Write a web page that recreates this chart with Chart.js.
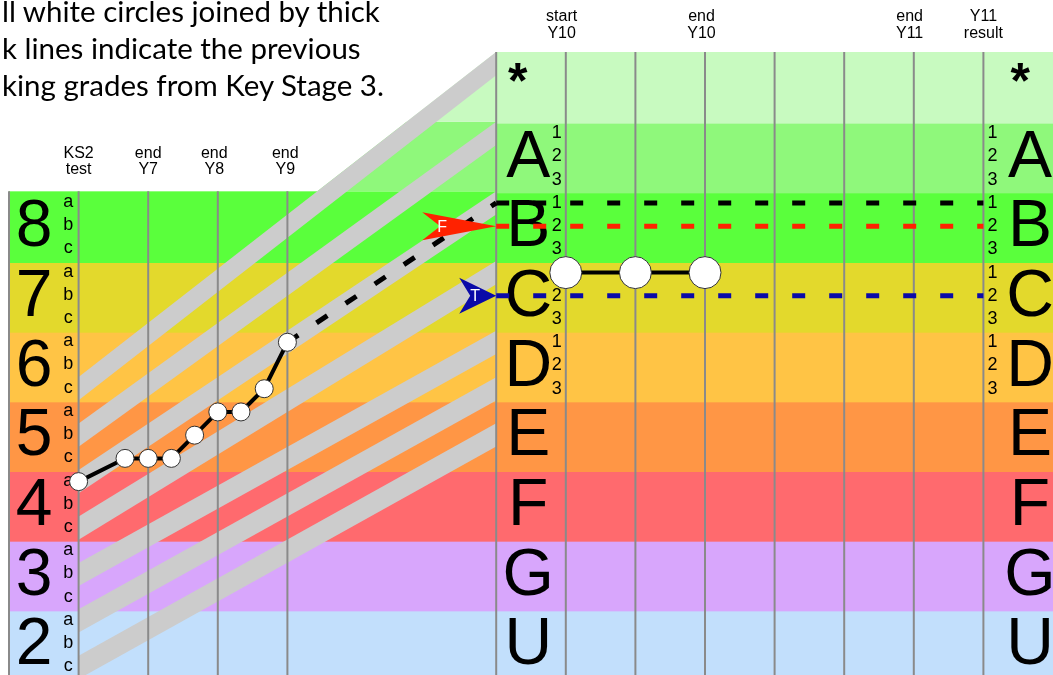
<!DOCTYPE html>
<html lang="en">
<head>
<meta charset="UTF-8" />
<title>Flight path</title>
<script src="https://cdn.jsdelivr.net/npm/chart.js"></script>
<style>
  html, body { margin: 0; padding: 0; overflow: hidden; background: #fff; }
  #wrap { position: relative; width: 1053px; height: 675px; overflow: hidden; }
  #chart { position: absolute; left: 0; top: 0; }
  #intro {
    position: absolute; left: 2px; top: -8px;
    font-family: Lato, "Open Sans", sans-serif; font-size: 29.5px; line-height: 37px;
    color: #000; white-space: pre;
  }
</style>
<script>
  // rows from the bottom, shared by both panels (level 2 = U ... level 8 = B)
  const ks3Levels = ["2", "3", "4", "5", "6", "7", "8"];
  const gcseRows = ["U", "G", "F", "E", "D", "C", "B", "A", "*"];
  const gcseSplitRows = ["D", "C", "B", "A"];
  const rowColours = ["#c2dffc", "#d8a6fc", "#ff6a6e", "#ff9645", "#ffc445",
                      "#e3d92c", "#5aff3c", "#8ff87b", "#c8fac0"];

  const ks3Headers = [["KS2", "test"], ["end", "Y7"], ["end", "Y8"], ["end", "Y9"]];
  const ks3HeaderX = [1, 2, 2.95, 3.97];
  const ks4Headers = [["start", "Y10"], ["end", "Y10"], ["end", "Y11"], ["Y11", "result"]];
  const ks4HeaderX = [7.94, 9.95, 12.94, 14];

  // tracking grades (x = column, one unit per year)
  const ks3TermX = [1, 1.667, 2, 2.333, 2.667, 3, 3.333, 3.667, 4];
  const ks3Grades = ["4a", "5c", "5c", "5c", "5b", "5a", "5a", "6c", "6a"];
  const ks4TermX = [8, 9, 10];
  const ks4Grades = ["C1", "C1", "C1"];

  const flightX = [4, 7];
  const flightGrades = ["6a", "B1"];
  const lineX = [7, 14];
  const predictedGrade = "B1";
  const fftGrade = "B2";
  const targetGrade = "C2";

  // gray flight path bands: KS2 sub-level they start on, grade value they reach
  const stripeStarts = ["6c", "5b", "4a", "4c", "3b", "2a", "2c"];
  const stripeEnds = [11, 10, 9, 8, 7, 6.33, 5.67];

  const ks3Sub = { a: 5 / 6, b: 0.5, c: 1 / 6 };
  const ks4Sub = { "1": 5 / 6, "2": 0.5, "3": 1 / 6 };

  function gradeValue(g) {
    if (/^\d/.test(g)) return +g[0] + ks3Sub[g[1]];
    return gcseRows.indexOf(g[0]) + 2 + ks4Sub[g[1]];
  }
  function stripeTop(g) {
    return +g[0] + ks3Sub[g[1]] + 1 / 6;
  }

  const FONT = '"Liberation Sans", Arial, sans-serif';

  const backdrop = {
    id: "backdrop",
    beforeDatasetsDraw(chart) {
      const { ctx, scales: { x, y } } = chart;
      const X = (v) => x.getPixelForValue(v);
      const Y = (v) => y.getPixelForValue(v);
      const bottom = chart.height;
      ctx.save();

      // right panel rows
      gcseRows.forEach((r, i) => {
        ctx.fillStyle = rowColours[i];
        ctx.fillRect(X(7), Y(i + 3), X(15) - X(7), Y(i + 2) - Y(i + 3) + 2);
      });
      // left panel levels
      ks3Levels.forEach((l, i) => {
        ctx.fillStyle = rowColours[i];
        ctx.fillRect(X(0), Y(i + 3), X(7) - X(0), Y(i + 2) - Y(i + 3) + 2);
      });
      // A and * rows continue left under the top flight path
      ctx.save();
      ctx.beginPath();
      ctx.moveTo(X(1), Y(stripeTop(stripeStarts[0])));
      ctx.lineTo(X(7), Y(stripeEnds[0]));
      ctx.lineTo(X(7), Y(2));
      ctx.lineTo(X(1), Y(2));
      ctx.closePath();
      ctx.clip();
      for (let i = 7; i < 9; i++) {
        ctx.fillStyle = rowColours[i];
        ctx.fillRect(X(0), Y(i + 3), X(7) - X(0), Y(i + 2) - Y(i + 3));
      }
      ctx.restore();

      // gray stripes
      ctx.fillStyle = "#cccccc";
      stripeStarts.forEach((s, i) => {
        const t0 = stripeTop(s), t1 = stripeEnds[i];
        ctx.beginPath();
        ctx.moveTo(X(1), Y(t0));
        ctx.lineTo(X(7), Y(t1));
        ctx.lineTo(X(7), Y(t1 - 1 / 3));
        ctx.lineTo(X(1), Y(t0 - 1 / 3));
        ctx.closePath();
        ctx.fill();
      });

      // column lines
      ctx.strokeStyle = "#8a8a8a";
      ctx.lineWidth = 2;
      [0, 1, 2, 3, 4].forEach((c) => {
        ctx.beginPath(); ctx.moveTo(X(c), Y(9)); ctx.lineTo(X(c), bottom); ctx.stroke();
      });
      [7, 8, 9, 10, 11, 12, 13, 14].forEach((c) => {
        ctx.beginPath(); ctx.moveTo(X(c), Y(11)); ctx.lineTo(X(c), bottom); ctx.stroke();
      });

      ctx.fillStyle = "#000";
      ctx.textAlign = "center";
      ctx.textBaseline = "middle";

      // level numbers and sub-levels
      ks3Levels.forEach((l, i) => {
        ctx.font = "66px " + FONT;
        ctx.fillText(l, X(0.36), Y(i + 2.5) + 2);
        ctx.font = "18px " + FONT;
        ["a", "b", "c"].forEach((s) => ctx.fillText(s, X(0.85), Y(i + 2 + ks3Sub[s]) - 1));
      });

      // GCSE grades, both sides
      gcseRows.forEach((r, i) => {
        if (r === "*") {
          ctx.font = "bold 50px " + FONT;
          ctx.fillText(r, X(7.31), Y(i + 2.5) - 3);
          ctx.fillText(r, X(14.53), Y(i + 2.5) - 3);
          return;
        }
        ctx.font = "66px " + FONT;
        ctx.fillText(r, X(7.46), Y(i + 2.5) + 2);
        ctx.fillText(r, X(14.67), Y(i + 2.5) + 2);
        if (!gcseSplitRows.includes(r)) return;
        ctx.font = "18px " + FONT;
        ["1", "2", "3"].forEach((s) => {
          ctx.fillText(s, X(7.87), Y(i + 2 + ks4Sub[s]));
          ctx.fillText(s, X(14.13), Y(i + 2 + ks4Sub[s]));
        });
      });

      // column headers
      ctx.font = "16px " + FONT;
      ks3Headers.forEach((h, i) => {
        ctx.fillText(h[0], X(ks3HeaderX[i]), Y(9) - 38);
        ctx.fillText(h[1], X(ks3HeaderX[i]), Y(9) - 22);
      });
      ks4Headers.forEach((h, i) => {
        ctx.fillText(h[0], X(ks4HeaderX[i]), Y(11) - 35);
        ctx.fillText(h[1], X(ks4HeaderX[i]), Y(11) - 18);
      });
      ctx.restore();
    },
    afterDatasetsDraw(chart) {
      const { ctx, scales: { x, y } } = chart;
      const X = (v) => x.getPixelForValue(v);
      const Y = (v) => y.getPixelForValue(v);
      const arrows = [
        { grade: fftGrade, colour: "#ff2200", len: 74, half: 14, notch: 56, label: "F", lx: 54 },
        { grade: targetGrade, colour: "#0a0aa8", len: 37, half: 18, notch: 26, label: "T", lx: 21 },
      ];
      ctx.save();
      arrows.forEach((a) => {
        const tx = X(7), ty = Y(gradeValue(a.grade));
        ctx.fillStyle = a.colour;
        ctx.beginPath();
        ctx.moveTo(tx, ty);
        ctx.lineTo(tx - a.len, ty - a.half);
        ctx.lineTo(tx - a.notch, ty);
        ctx.lineTo(tx - a.len, ty + a.half);
        ctx.closePath();
        ctx.fill();
        ctx.fillStyle = "#fff";
        ctx.font = "16px " + FONT;
        ctx.textAlign = "center";
        ctx.textBaseline = "middle";
        ctx.fillText(a.label, tx - a.lx, ty + 1);
      });
      ctx.restore();
    },
  };

  document.addEventListener("DOMContentLoaded", function () {
    const dashed = (grade, colour) => ({
      label: grade,
      data: lineX.map((v) => ({ x: v, y: gradeValue(grade) })),
      borderColor: colour,
      borderWidth: 5,
      borderDash: [13, 24],
      pointRadius: 0,
    });
    const config = {
      type: "line",
      data: {
        datasets: [
          {
            label: "KS3 tracking",
            data: ks3TermX.map((v, i) => ({ x: v, y: gradeValue(ks3Grades[i]) })),
            borderColor: "#000",
            borderWidth: 4,
            pointRadius: 9,
            pointBackgroundColor: "#fff",
            pointBorderColor: "#333",
            pointBorderWidth: 1,
          },
          {
            label: "KS4 tracking",
            data: ks4TermX.map((v, i) => ({ x: v, y: gradeValue(ks4Grades[i]) })),
            borderColor: "#000",
            borderWidth: 4,
            pointRadius: 16,
            pointBackgroundColor: "#fff",
            pointBorderColor: "#333",
            pointBorderWidth: 1,
          },
          {
            label: "Flight path",
            data: flightX.map((v, i) => ({ x: v, y: gradeValue(flightGrades[i]) })),
            borderColor: "#000",
            borderWidth: 5,
            borderDash: [13, 22],
            pointRadius: 0,
          },
          dashed(predictedGrade, "#000"),
          dashed(fftGrade, "#ff2200"),
          dashed(targetGrade, "#0a0aa8"),
        ],
      },
      options: {
        responsive: false,
        animation: false,
        devicePixelRatio: 1,
        layout: { autoPadding: false, padding: { left: 9, right: 0, top: 52, bottom: 1 } },
        plugins: { legend: { display: false }, tooltip: { enabled: false } },
        scales: {
          x: { type: "linear", min: 0, max: 15, display: false },
          y: { type: "linear", min: 2, max: 11, display: false },
        },
      },
      plugins: [backdrop],
    };
    new Chart(document.getElementById("chart"), config);
  });
</script>
</head>
<body>
<div id="wrap">
  <canvas id="chart" width="1053" height="680"></canvas>
  <div id="intro">ll white circles joined by thick
k lines indicate the previous
king grades from Key Stage 3.</div>
</div>
</body>
</html>
